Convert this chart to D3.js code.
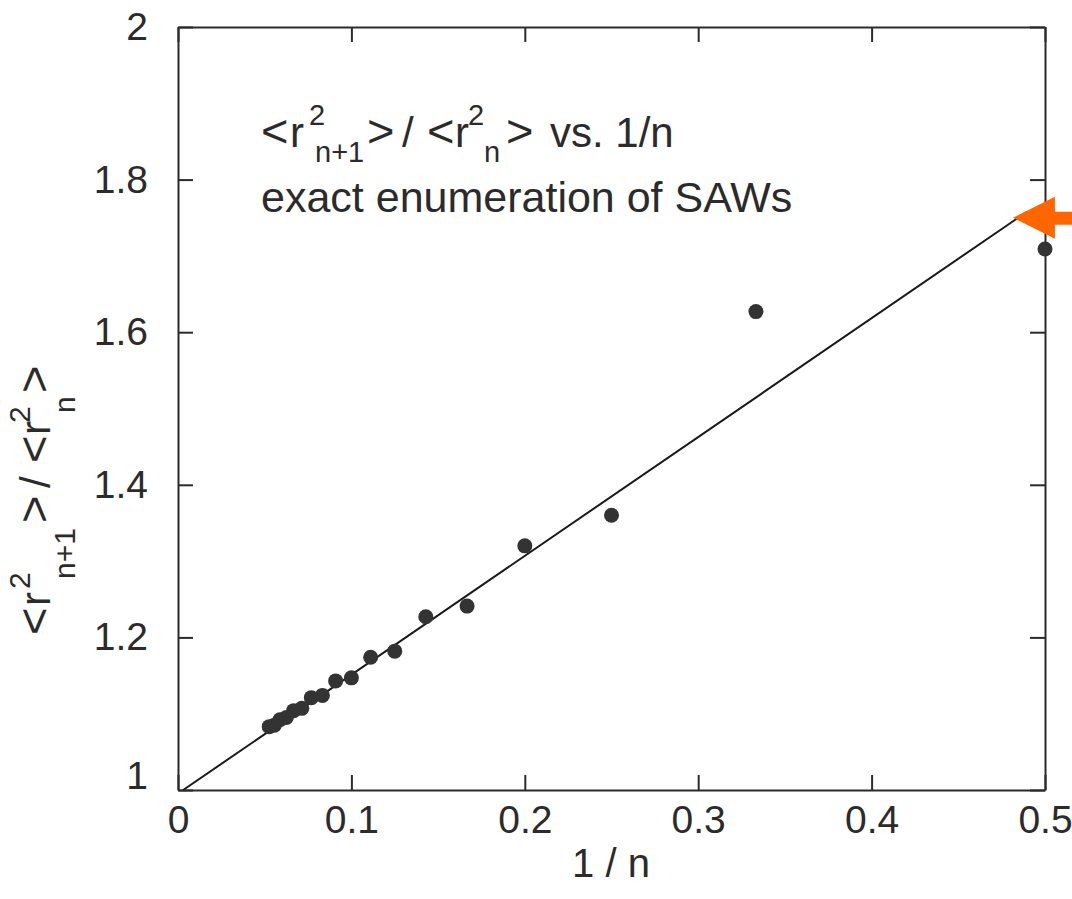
<!DOCTYPE html>
<html>
<head>
<meta charset="utf-8">
<script src="https://cdn.jsdelivr.net/npm/d3@7"></script>
<style>
  body { margin: 0; background: #fff; }
  svg { display: block; font-family: "Liberation Sans", Arial, Helvetica, sans-serif; }
</style>
</head>
<body>
<div id="chart"></div>
<script>
// data
var invN = [0.5, 0.3333, 0.25, 0.2, 0.1667, 0.1429, 0.125, 0.1111, 0.1, 0.0909,
            0.0833, 0.0769, 0.0714, 0.0667, 0.0625, 0.0588, 0.0556, 0.0526];
var ratio = [1.709, 1.627, 1.360, 1.320, 1.241, 1.227, 1.182, 1.174, 1.147, 1.143,
             1.124, 1.121, 1.107, 1.104, 1.095, 1.092, 1.085, 1.083];
var fitX = [0.003, 0.489];
var fitY = [1.0, 1.757];
var xTicks = [0, 0.1, 0.2, 0.3, 0.4, 0.5];
var yTicks = [1, 1.2, 1.4, 1.6, 1.8, 2];
var arrowTip = [0.4815, 1.75];

var width = 1072, height = 899;
var plotLeft = 178, plotRight = 1045, plotTop = 27, plotBottom = 790;
var ink = "#2b2b2b";

var svg = d3.select("#chart").append("svg")
    .attr("width", width)
    .attr("height", height);

var x = d3.scaleLinear().domain([0, 0.5]).range([plotLeft, plotRight]);
var y = d3.scaleLinear().domain([1, 2]).range([plotBottom, plotTop]);

function styleAxis(g) {
  g.selectAll("path.domain").attr("stroke", ink).attr("stroke-width", 2);
  g.selectAll(".tick line").attr("stroke", ink).attr("stroke-width", 2);
  g.selectAll(".tick text").attr("fill", ink).attr("font-size", 39)
    .attr("font-family", "Liberation Sans, Arial, sans-serif");
}

// axes, ticks pointing inward on all four sides
svg.append("g")
    .attr("transform", "translate(0," + plotBottom + ")")
    .call(d3.axisBottom(x).tickValues(xTicks).tickSizeInner(-15).tickSizeOuter(0)
      .tickPadding(15).tickFormat(function(d) { return d === 0 ? "0" : String(d); }))
    .call(styleAxis);

svg.append("g")
    .attr("transform", "translate(0," + plotTop + ")")
    .call(d3.axisTop(x).tickValues(xTicks).tickSizeInner(-15).tickSizeOuter(0).tickFormat(""))
    .call(styleAxis);

var yAxis = svg.append("g")
    .attr("transform", "translate(" + plotLeft + ",0)")
    .call(d3.axisLeft(y).tickValues(yTicks).tickSizeInner(-15).tickSizeOuter(0)
      .tickPadding(30).tickFormat(function(d) { return String(+d.toFixed(1)); }))
    .call(styleAxis);
yAxis.selectAll(".tick text").filter(function(d) { return d === 1; }).attr("dy", "-0.05em");

svg.append("g")
    .attr("transform", "translate(" + plotRight + ",0)")
    .call(d3.axisRight(y).tickValues(yTicks).tickSizeInner(-15).tickSizeOuter(0).tickFormat(""))
    .call(styleAxis);

// fit line
svg.append("line")
    .attr("x1", x(fitX[0])).attr("y1", y(fitY[0]))
    .attr("x2", x(fitX[1])).attr("y2", y(fitY[1]))
    .attr("stroke", "#1a1a1a")
    .attr("stroke-width", 2);

// points
svg.append("g")
  .selectAll("circle")
  .data(invN)
  .enter()
  .append("circle")
    .attr("cx", function(d) { return x(d); })
    .attr("cy", function(d, i) { return y(ratio[i]); })
    .attr("r", 7.5)
    .attr("fill", "#333");

// orange arrow
svg.append("polygon")
    .attr("transform", "translate(" + x(arrowTip[0]) + "," + y(arrowTip[1]) + ")")
    .attr("points", "0,0 42,-21 42,-6 80,-6 80,7 42,7 42,21")
    .attr("fill", "#ff6600");

// formula <r^2_{n+1}> / <r^2_n>, pieces placed along the baseline
function formula(t, pos, supY, subY, small, bracket) {
  var parts = [
    ["<", 0, 0], ["r", 1, 0], ["2", 2, supY], ["n+1", 3, subY], [">", 4, 0],
    ["/", 5, 0], ["<", 6, 0], ["r", 7, 0], ["2", 8, supY], ["n", 9, subY], [">", 10, 0]
  ];
  parts.forEach(function(p) {
    var size = p[2] !== 0 ? small : (p[0] === "<" || p[0] === ">") ? bracket : null;
    t.append("tspan")
      .attr("x", pos[p[1]])
      .attr("y", p[2])
      .attr("font-size", size)
      .text(p[0]);
  });
}

var note = svg.append("g").attr("transform", "translate(261,147)");
var noteText = note.append("text").attr("font-size", 42).attr("fill", ink);
formula(noteText, [0, 29, 48, 54, 106, 141, 166, 194, 207, 223, 245], -22, 15, 29, 47);
noteText.append("tspan").attr("x", 289).attr("y", 0).text("vs. 1/n");

svg.append("text")
    .attr("x", 261).attr("y", 212)
    .attr("font-size", 43).attr("fill", ink)
    .text("exact enumeration of SAWs");

// axis titles
svg.append("text")
    .attr("x", 611).attr("y", 877)
    .attr("text-anchor", "middle")
    .attr("font-size", 40).attr("fill", ink)
    .text("1 / n");

var ylab = svg.append("g").attr("transform", "translate(50,635) rotate(-90)")
  .append("text").attr("font-size", 42).attr("fill", ink);
formula(ylab, [0, 29, 46, 56, 112, 147, 172, 200, 212, 222, 242], -20, 25, 30, 47);
</script>
</body>
</html>
